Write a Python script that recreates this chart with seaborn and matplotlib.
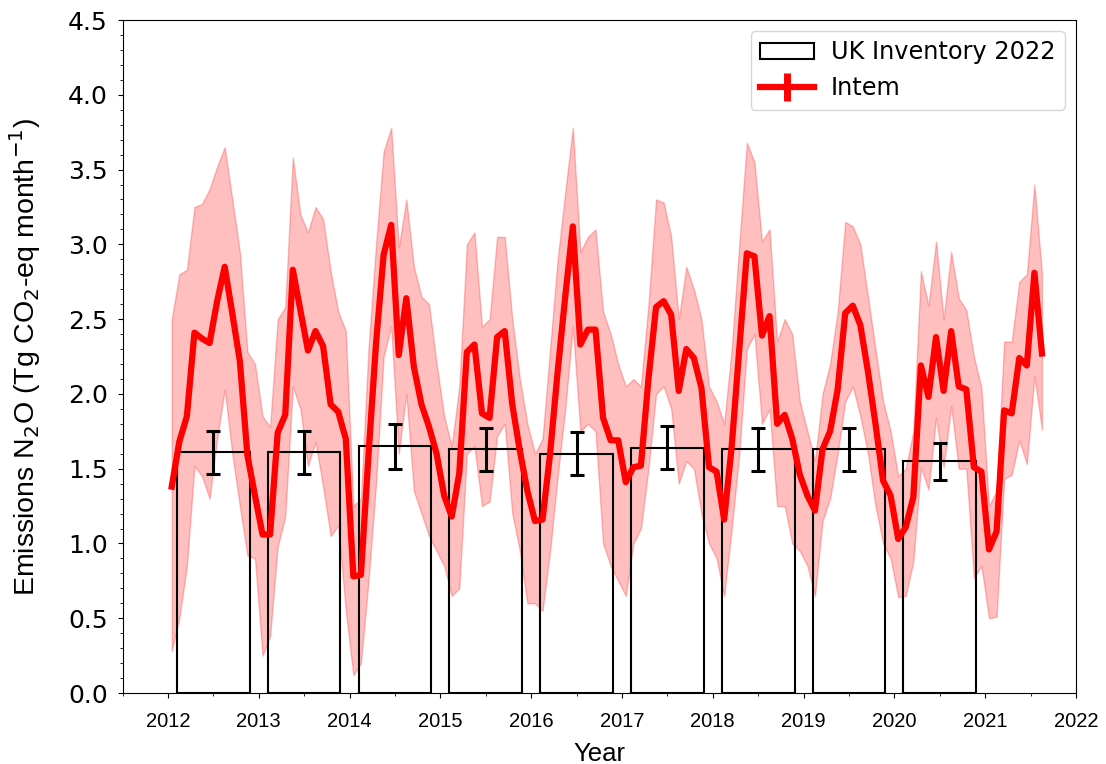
import matplotlib
matplotlib.use("Agg")
import matplotlib.pyplot as plt
from matplotlib.lines import Line2D
from matplotlib.patches import Patch
from matplotlib.ticker import MultipleLocator
import numpy as np
import seaborn as sns

# UK inventory (annual totals expressed per month) with uncertainty
inventory_years = [2012, 2013, 2014, 2015, 2016, 2017, 2018, 2019, 2020]
inventory_values = [1.61, 1.61, 1.65, 1.63, 1.60, 1.64, 1.63, 1.63, 1.55]
inventory_errors = [0.145, 0.145, 0.15, 0.145, 0.145, 0.145, 0.145, 0.145, 0.125]

# Intem monthly estimates, January 2012 - August 2021
intem_mean = [
    1.38, 1.68, 1.85, 2.41, 2.37, 2.34, 2.62, 2.85, 2.54, 2.22, 1.59, 1.32,
    1.06, 1.06, 1.74, 1.86, 2.83, 2.56, 2.29, 2.42, 2.32, 1.93, 1.88, 1.70,
    0.78, 0.79, 1.59, 2.34, 2.93, 3.13, 2.26, 2.64, 2.18, 1.93, 1.78, 1.60,
    1.32, 1.18, 1.47, 2.28, 2.33, 1.87, 1.84, 2.38, 2.42, 1.93, 1.62, 1.35,
    1.15, 1.16, 1.60, 2.15, 2.65, 3.12, 2.33, 2.43, 2.43, 1.84, 1.69, 1.69,
    1.41, 1.51, 1.52, 2.10, 2.58, 2.62, 2.53, 2.02, 2.30, 2.24, 2.04, 1.51,
    1.48, 1.16, 1.65, 2.30, 2.94, 2.92, 2.39, 2.52, 1.80, 1.86, 1.70, 1.46,
    1.32, 1.22, 1.63, 1.75, 2.03, 2.54, 2.59, 2.46, 2.15, 1.80, 1.42, 1.32,
    1.03, 1.11, 1.31, 2.19, 1.98, 2.38, 2.02, 2.42, 2.05, 2.03, 1.51, 1.48,
    0.96, 1.08, 1.89, 1.87, 2.24, 2.19, 2.81, 2.27,
]
intem_upper = [
    2.50, 2.80, 2.83, 3.25, 3.27, 3.37, 3.52, 3.65, 3.30, 2.95, 2.28, 2.20,
    1.85, 1.78, 2.50, 2.58, 3.58, 3.20, 3.08, 3.25, 3.17, 2.82, 2.55, 2.42,
    1.25, 1.30, 2.30, 3.00, 3.62, 3.78, 2.98, 3.30, 2.85, 2.65, 2.60, 2.20,
    1.85, 1.65, 2.05, 3.00, 3.08, 2.45, 2.50, 3.05, 3.05, 2.50, 2.10, 1.80,
    1.60, 1.70, 2.30, 2.90, 3.35, 3.78, 2.95, 3.05, 3.10, 2.55, 2.40, 2.20,
    2.05, 2.10, 2.05, 2.60, 3.30, 3.28, 3.05, 2.50, 2.85, 2.70, 2.50, 2.05,
    1.95, 1.80, 2.30, 3.00, 3.68, 3.55, 3.02, 3.10, 2.35, 2.50, 2.40, 1.95,
    1.75, 1.55, 2.00, 2.20, 2.55, 3.15, 3.12, 3.00, 2.65, 2.30, 1.95, 1.75,
    1.45, 1.50, 1.75, 2.82, 2.59, 3.02, 2.50, 2.95, 2.64, 2.56, 2.25, 2.04,
    1.25, 1.35, 2.35, 2.35, 2.75, 2.80, 3.40, 2.80,
]
intem_lower = [
    0.28, 0.50, 0.85, 1.52, 1.45, 1.30, 1.70, 2.03, 1.60, 1.25, 0.92, 0.90,
    0.25, 0.38, 0.98, 1.18, 2.05, 1.90, 1.52, 1.68, 1.38, 1.05, 1.12, 0.55,
    0.12, 0.20, 0.75, 1.40, 2.25, 2.45, 1.60, 2.00, 1.35, 1.20, 1.05, 0.95,
    0.85, 0.65, 0.70, 1.60, 1.65, 1.25, 1.28, 1.72, 1.80, 1.20, 0.95, 0.60,
    0.60, 0.55, 0.95, 1.45, 1.90, 2.45, 1.75, 1.80, 1.75, 1.00, 0.85, 0.75,
    0.65, 1.00, 1.10, 1.50, 2.00, 2.05, 1.90, 1.40, 1.55, 1.50, 1.20, 1.00,
    0.90, 0.65, 1.10, 1.60, 2.30, 2.40, 1.80, 1.90, 1.25, 1.25, 1.00, 0.95,
    0.85, 0.65, 1.15, 1.30, 1.60, 1.95, 2.05, 1.85, 1.60, 1.25, 1.00, 0.90,
    0.64, 0.65, 0.88, 1.51, 1.36, 1.84, 1.51, 1.92, 1.50, 1.50, 0.77, 0.85,
    0.50, 0.51, 1.43, 1.46, 1.69, 1.53, 2.12, 1.76,
]

# decimal-year position of each monthly estimate (middle of the month)
month_x = 2012 + (np.arange(len(intem_mean)) + 0.5) / 12.0
bar_centres = np.array(inventory_years) + 0.5

fig = plt.figure(figsize=(11.06, 7.64), dpi=100)
ax = fig.add_axes([0.1108, 0.0929, 0.8621, 0.8809])

# uncertainty envelope of the inversion
ax.fill_between(month_x, intem_lower, intem_upper, color="red", alpha=0.25,
                linewidth=1.0, zorder=1)

# inventory bars (outline only)
sns.barplot(x=bar_centres, y=inventory_values, native_scale=True, width=0.8,
            fill=False, color="black", linewidth=1.5, errorbar=None, ax=ax,
            zorder=2)

# monthly inversion estimates
sns.lineplot(x=month_x, y=intem_mean, color="red", linewidth=4.5,
             errorbar=None, sort=False, legend=False, ax=ax, zorder=3)

ax.errorbar(bar_centres, inventory_values, yerr=inventory_errors, fmt="none",
            ecolor="black", elinewidth=2.2, capsize=5, capthick=2.2, zorder=4)

ax.set_xlim(2011.5, 2022)
ax.set_ylim(0, 4.5)
ax.xaxis.set_major_locator(MultipleLocator(1))
ax.xaxis.set_minor_locator(MultipleLocator(0.5))
ax.yaxis.set_major_locator(MultipleLocator(0.5))
ax.yaxis.set_minor_locator(MultipleLocator(0.1))
ax.set_xticks(np.arange(2012, 2023))
ax.set_xticklabels([str(y) for y in range(2012, 2023)],
                   fontfamily="Liberation Sans", fontsize=14.5)
ax.set_yticks(np.arange(0, 4.51, 0.5))
ax.set_yticklabels([f"{v:.1f}" for v in np.arange(0, 4.51, 0.5)],
                   fontfamily="DejaVu Sans", fontsize=18)
ax.tick_params(axis="x", which="major", pad=10)
ax.tick_params(axis="y", which="major", pad=7)

ax.set_xlabel("Year", fontfamily="Liberation Sans", fontsize=18.5, labelpad=8)
ax.set_ylabel("Emissions N$_2$O (Tg CO$_2$-eq month$^{-1}$)",
              fontfamily="Liberation Sans", fontsize=20.5, labelpad=18)

handles = [
    Patch(facecolor="white", edgecolor="black", linewidth=1.5),
    Line2D([], [], color="red", linewidth=4.5, marker="|", markersize=20,
           markeredgewidth=5),
]
ax.legend(handles, ["UK Inventory 2022", "Intem"], loc="upper right",
          prop={"family": "DejaVu Sans", "size": 17.3}, borderaxespad=0.45,
          handlelength=2.25, handletextpad=0.7)

fig.savefig("out.png", dpi=100)
